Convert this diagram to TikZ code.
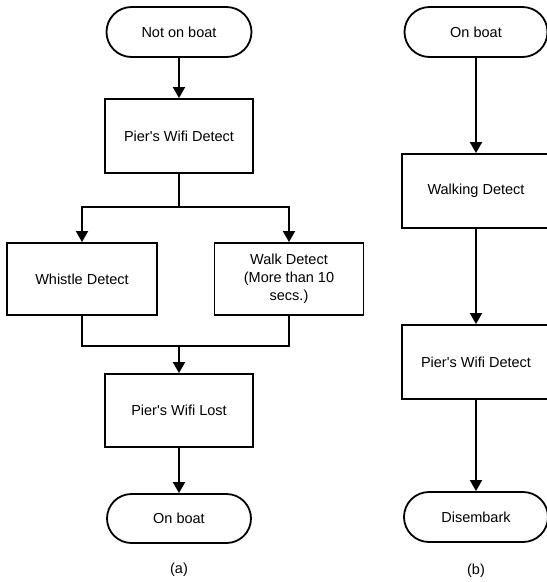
\documentclass[tikz,border=0pt]{standalone}
\usepackage{fontspec}
\setmainfont{Liberation Sans}[Ligatures=TeXOff]
\usetikzlibrary{arrows.meta,shapes.misc}
\begin{document}
\begin{tikzpicture}[x=1pt,y=-1pt,
  lbl/.style={font=\fontsize{14.5}{17.8}\selectfont},
  box/.style={lbl, draw, line width=1.8pt, rectangle, minimum width=148pt, minimum height=74pt, inner sep=0pt, align=center},
  term/.style={lbl, draw, line width=1.8pt, rounded rectangle, minimum width=145pt, minimum height=50pt, inner sep=0pt},
  flow/.style={line width=1.8pt, -{Triangle[width=12pt,length=11pt]}},
  link/.style={line width=1.8pt},
]
\useasboundingbox (0,0) rectangle (547,582);
\clip (0,0) rectangle (547,582);

% (a)
\node[term] (a0) at (179,32) {Not on boat};
\node[box] (a1) at (179,136) {Pier's Wifi Detect};
\node[box, minimum width=150pt, minimum height=72pt] (a2) at (82,279) {Whistle Detect};
\node[box, minimum width=149pt, minimum height=72pt] (a3) at (289,279) {Walk Detect\\(More than 10\\secs.)};
\node[box, minimum height=73pt] (a4) at (179,410.5) {Pier's Wifi Lost};
\node[term, minimum width=144pt, minimum height=49pt] (a5) at (179,518.5) {On boat};
\node[lbl] (alabel) at (179,570) {(a)};

\coordinate (split) at (179,207);
\coordinate (join) at (179,346);
\draw[flow] (a0) -- (a1);
\draw[link] (a1) -- (split);
\draw[flow] (split) -| (a2);
\draw[flow] (split) -| (a3);
\draw[link] (a2) |- (join);
\draw[link] (a3) |- (join);
\draw[flow] (join) -- (a4);
\draw[flow] (a4) -- (a5);

% (b)
\node[term, minimum width=143pt] (b0) at (476,32) {On boat};
\node[box] (b1) at (476,191) {Walking Detect};
\node[box] (b2) at (476,362) {Pier's Wifi Detect};
\node[term, minimum width=144pt] (b3) at (476,517) {Disembark};
\node[lbl] (blabel) at (476,571) {(b)};

\draw[flow] (b0) -- (b1);
\draw[flow] (b1) -- (b2);
\draw[flow] (b2) -- (b3);
\end{tikzpicture}
\end{document}
